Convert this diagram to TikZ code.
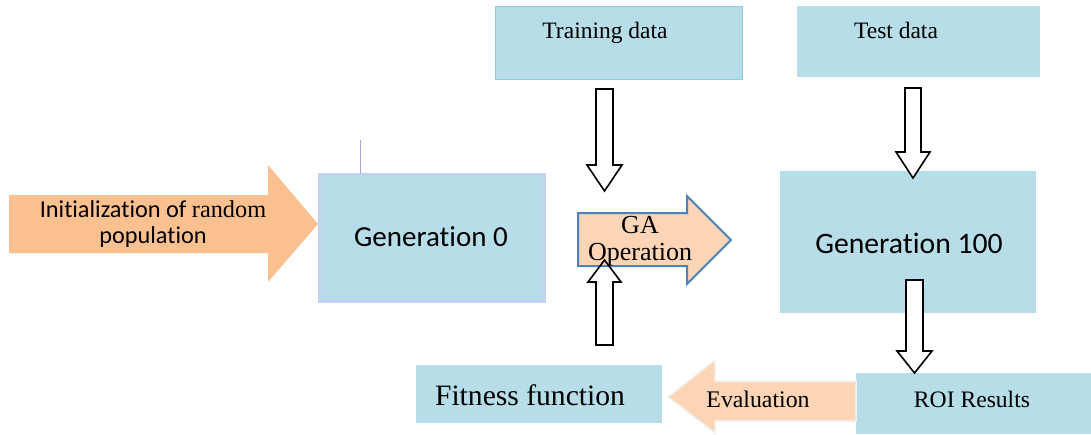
\documentclass[tikz,border=0pt]{standalone}
\usepackage{fontspec}
\setmainfont{Liberation Serif}
\newfontfamily\calfont[RawFeature={-liga,-clig,-dlig}]{Carlito}
\definecolor{boxblue}{HTML}{B7DDE8}
\definecolor{boxedge}{HTML}{C2D3F0}
\definecolor{trainedge}{HTML}{93CDDD}
\definecolor{orangeA}{HTML}{FAC090}
\definecolor{orangeB}{HTML}{FBD5B5}
\definecolor{gablue}{HTML}{4F81BD}
\definecolor{tickline}{HTML}{A8A8D8}
\begin{document}
\begin{tikzpicture}[x=1pt,y=-1pt,
  box/.style={fill=boxblue,draw=none,inner sep=0pt,outer sep=0pt},
  hollow/.style={draw=black,line width=1.6pt,fill=white,line join=miter},
  lbl/.style={anchor=base,inner sep=0pt,outer sep=0pt}]
\useasboundingbox (0,0) rectangle (1091,434);
% boxes
\node[box,draw=trainedge,line width=1pt,minimum width=247,minimum height=73] (train) at (618.5,42.5) {};
\node[box,minimum width=243,minimum height=71] (test) at (918.5,41.5) {};
\node[box,draw=boxedge,line width=3pt,minimum width=225,minimum height=127] (gen0) at (431.5,237.5) {};
\node[box,minimum width=256,minimum height=142] (gen100) at (908,242) {};
\node[box,minimum width=246,minimum height=58] (fit) at (539,394) {};
\node[box,minimum width=236,minimum height=61] (roi) at (973.5,403.5) {};
% small tick line above Generation 0
\coordinate (tick) at (360,140);
\draw[tickline,line width=1pt] (tick) -- (tick |- gen0.north);
% initialization arrow
\fill[orangeA] (9,195) -- (268,195) -- (268,165) -- (318,224) -- (268,282) -- (268,253) -- (9,253) -- cycle;
% GA operation arrow
\draw[fill=orangeB,draw=gablue,line width=2pt,line join=miter] (578,213) -- (687,213) -- (687,196) -- (731,240) -- (687,284) -- (687,266) -- (578,266) -- cycle;
% Evaluation arrow
\draw[fill=orangeB,draw=black!5,line width=1.5pt,line join=miter] (856,381) -- (715,381) -- (715,360) -- (668,397) -- (715,433) -- (715,421) -- (856,421) -- cycle;
% hollow arrows
\draw[hollow] (596,89) -- (613,89) -- (613,165) -- (622,165) -- (604.5,191) -- (587,165) -- (596,165) -- cycle;
\draw[hollow] (905,88) -- (921,88) -- (921,152) -- (930,152) -- (913,178) -- (896,152) -- (905,152) -- cycle;
\draw[hollow] (906,280) -- (923,280) -- (923,351) -- (932,351) -- (914.5,373) -- (897,351) -- (906,351) -- cycle;
\draw[hollow,fill=none] (596,345) -- (613,345) -- (613,282) -- (621,282) -- (604.5,260) -- (588,282) -- (596,282) -- cycle;
% texts
\node[lbl] (tinit1) at (153,217) {\fontsize{24.3}{28}\selectfont\calfont Initialization of \rmfamily random};
\node[lbl] (tinit2) at (153,243) {\fontsize{24.3}{28}\selectfont\calfont population};
\node[lbl] (tgen0) at (431,246) {\fontsize{29}{33}\selectfont\calfont Generation 0};
\node[lbl] (ttrain) at (605,38) {\fontsize{23.5}{28}\selectfont Training data};
\node[lbl] (ttest) at (896,38) {\fontsize{23.5}{28}\selectfont Test data};
\node[lbl] (tga1) at (640,233) {\fontsize{26}{30}\selectfont GA};
\node[lbl] (tga2) at (640,260) {\fontsize{26}{30}\selectfont Operation};
\node[lbl] (tgen100) at (909,253) {\fontsize{29.7}{33}\selectfont\calfont Generation 100};
\node[lbl] (tfit) at (530,405) {\fontsize{29.6}{34}\selectfont Fitness function};
\node[lbl] (teval) at (758,407) {\fontsize{23.8}{28}\selectfont Evaluation};
\node[lbl] (troi) at (972,407) {\fontsize{23.6}{28}\selectfont ROI Results};
\end{tikzpicture}
\end{document}
